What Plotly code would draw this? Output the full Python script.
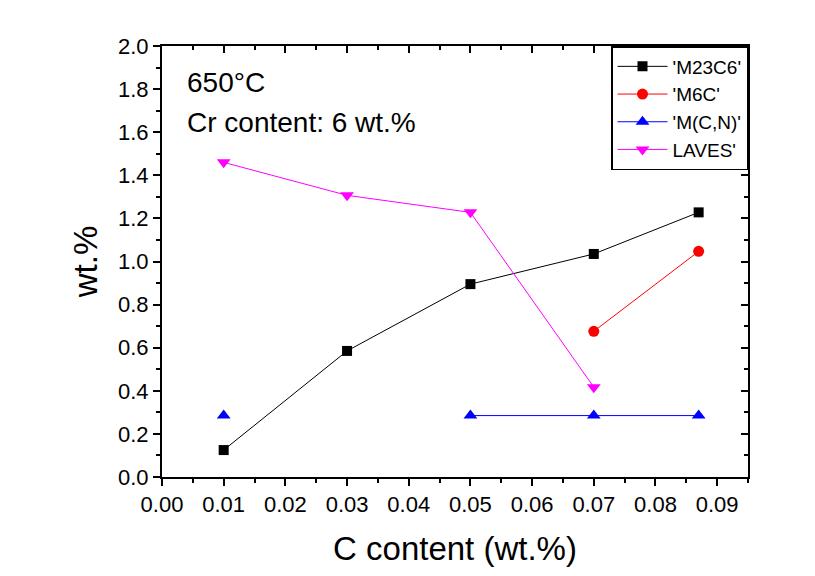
import plotly.graph_objects as go

c_content = [0.01, 0.03, 0.05, 0.07, 0.087]
m23c6 = [0.125, 0.585, 0.895, 1.035, 1.228]
m6c = [None, None, None, 0.676, 1.047]
mcn = [0.285, None, 0.285, 0.285, 0.285]
laves = [1.46, 1.307, 1.228, 0.417, None]

names = ["'M23C6'", "'M6C'", "'M(C,N)'", "LAVES'"]
colors = ["black", "red", "blue", "magenta"]
symbols = ["square", "circle", "triangle-up", "triangle-down"]
sizes = [10, 11, 12, 12]
series = [m23c6, m6c, mcn, laves]

FONT = "Liberation Sans, Arial, sans-serif"

fig = go.Figure()
for name, col, sym, sz, ys in zip(names, colors, symbols, sizes, series):
    fig.add_trace(go.Scatter(
        x=c_content, y=ys, name=name, mode="lines+markers",
        line=dict(color=col, width=1),
        marker=dict(symbol=sym, size=sz, color=col, line=dict(width=0)),
        connectgaps=False,
    ))

# invisible trace for mirrored axes
fig.add_trace(go.Scatter(x=[None], y=[None], xaxis="x2", yaxis="y2", showlegend=False, hoverinfo="skip"))

axis_common = dict(showgrid=False, zeroline=False, showline=True, linecolor="black", linewidth=2,
                   tickcolor="black", tickwidth=1.5)

fig.update_layout(
    width=807, height=568,
    margin=dict(l=154, r=67, t=38, b=99),
    paper_bgcolor="white", plot_bgcolor="white",
    font=dict(family=FONT, color="black"),
    xaxis=dict(range=[0, 0.095], tickvals=[i / 100 for i in range(10)], tickformat=".2f",
               ticks="outside", ticklen=7,
               minor=dict(dtick=0.005, tick0=0, ticks="outside", ticklen=4, tickcolor="black", tickwidth=1.5),
               tickfont=dict(size=22),
               title=dict(text="C content (wt.%)", font=dict(size=33), standoff=20),
               **axis_common),
    yaxis=dict(range=[0, 2.0], dtick=0.2, tickformat=".1f", ticks="outside", ticklen=7,
               minor=dict(dtick=0.1, tick0=0, ticks="outside", ticklen=4, tickcolor="black", tickwidth=1.5),
               tickfont=dict(size=22),
               title=dict(text="wt.%", font=dict(size=33), standoff=10),
               **axis_common),
    xaxis2=dict(range=[0, 0.095], overlaying="x", side="top", anchor="y2", dtick=0.01, tick0=0,
                ticks="inside", ticklen=7, showticklabels=False,
                minor=dict(dtick=0.005, tick0=0, ticks="inside", ticklen=4, tickcolor="black", tickwidth=1.5),
                **axis_common),
    yaxis2=dict(range=[0, 2.0], overlaying="y", side="right", anchor="x2", dtick=0.2, tick0=0,
                ticks="inside", ticklen=7, showticklabels=False,
                minor=dict(dtick=0.1, tick0=0, ticks="inside", ticklen=4, tickcolor="black", tickwidth=1.5),
                **axis_common),
    legend=dict(x=1, y=1, xanchor="right", yanchor="top", bgcolor="white",
                bordercolor="black", borderwidth=1.5, font=dict(size=19), itemwidth=50,
                tracegroupgap=0),
    showlegend=True,
)

fig.add_annotation(text="650\u00b0C", xref="paper", yref="paper", x=0.04, y=0.915,
                   xanchor="left", yanchor="middle", showarrow=False, font=dict(size=28))
fig.add_annotation(text="Cr content: 6 wt.%", xref="paper", yref="paper", x=0.04, y=0.823,
                   xanchor="left", yanchor="middle", showarrow=False, font=dict(size=28))

fig.write_html("out.html")
